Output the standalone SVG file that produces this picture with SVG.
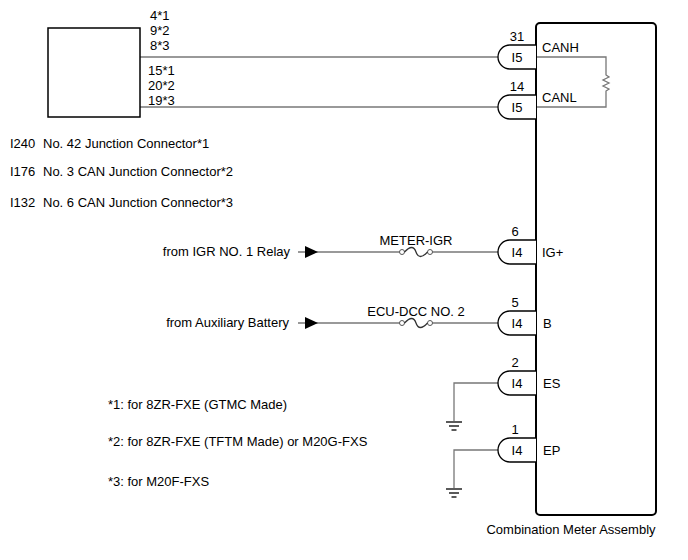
<svg xmlns="http://www.w3.org/2000/svg" width="688" height="560" viewBox="0 0 688 560">
<style>
text{font-family:"Liberation Sans",Arial,sans-serif;font-size:13px;fill:#000}
.w{stroke:#777;stroke-width:1.3;fill:none}
.pill{fill:#fff;stroke:#000;stroke-width:1.3}
.c{text-anchor:middle}
.g{stroke:#000;stroke-width:1.3}
</style>
<defs>
<path id="pl" d="M536,-12 H510 A12,12 0 0 0 510,12 H536"/>
<g id="gnd"><line class="g" x1="-8" y1="0" x2="8" y2="0"/><line class="g" x1="-5" y1="4" x2="5" y2="4"/><line class="g" x1="-2.5" y1="8" x2="2.5" y2="8"/></g>
<g id="fuse"><circle cx="-14" cy="0" r="2.5" fill="#fff" stroke="#555"/><circle cx="14" cy="0" r="2.5" fill="#fff" stroke="#555"/><path d="M-11.5,0 C-6,-6 -2,-6 0,0 S6,6 11.5,0" fill="none" stroke="#333" stroke-width="1.3"/></g>
</defs>
<g id="connectors">
<line class="w" x1="140" y1="57" x2="498" y2="57"/>
<line class="w" x1="140" y1="107" x2="498" y2="107"/>
<path class="w" d="M536,57 H606 V75 l3,2 l-6,3 l6,3 l-6,3 l6,3 l-3,2 V107 H536"/>
<line class="w" x1="298" y1="252" x2="402" y2="252"/>
<line class="w" x1="430" y1="252" x2="498" y2="252"/>
<line class="w" x1="298" y1="323" x2="402" y2="323"/>
<line class="w" x1="430" y1="323" x2="498" y2="323"/>
<polygon points="305,246 318,252 305,258" fill="#000"/>
<polygon points="305,317 318,323 305,329" fill="#000"/>
<path class="w" d="M498,383 H454 V421"/>
<path class="w" d="M498,450 H454 V488"/>
</g>
<g id="fuses"><use href="#fuse" x="416" y="252"/><use href="#fuse" x="416" y="323"/></g>
<use href="#gnd" x="454" y="422"/>
<use href="#gnd" x="454" y="489"/>
<g id="junction">
<rect x="48" y="28" width="92" height="89" fill="#fff" stroke="#000" stroke-width="1.5"/>
<text x="150" y="20">4*1</text><text x="150" y="35">9*2</text><text x="150" y="50">8*3</text>
<text x="148" y="75">15*1</text><text x="148" y="90">20*2</text><text x="148" y="105">19*3</text>
<text x="10" y="148">I240</text><text x="43" y="148">No. 42 Junction Connector*1</text>
<text x="10" y="176">I176</text><text x="43" y="176">No. 3 CAN Junction Connector*2</text>
<text x="10" y="207">I132</text><text x="43" y="207">No. 6 CAN Junction Connector*3</text>
</g>
<g id="meter">
<rect x="536" y="23" width="120" height="492" rx="4" fill="none" stroke="#000" stroke-width="2"/>
<text x="571" y="534" class="c">Combination Meter Assembly</text>
<text x="542" y="52">CANH</text><text x="542" y="102">CANL</text>
<text x="542" y="257">IG+</text><text x="543" y="328">B</text>
<text x="543" y="388">ES</text><text x="543" y="455">EP</text>
</g>
<g id="pins">
<use href="#pl" y="57" class="pill"/><use href="#pl" y="107" class="pill"/>
<use href="#pl" y="252" class="pill"/><use href="#pl" y="323" class="pill"/>
<use href="#pl" y="383" class="pill"/><use href="#pl" y="450" class="pill"/>
<g class="c">
<text x="517" y="62">I5</text><text x="517" y="112">I5</text><text x="517" y="257">I4</text><text x="517" y="328">I4</text><text x="517" y="388">I4</text><text x="517" y="455">I4</text>
<text x="517" y="41">31</text><text x="517" y="91">14</text><text x="515" y="236">6</text><text x="515" y="307">5</text><text x="515" y="367">2</text><text x="515" y="434">1</text>
<text x="416" y="245">METER-IGR</text><text x="416" y="316">ECU-DCC NO. 2</text>
</g>
</g>
<g id="labels">
<text x="290" y="256" text-anchor="end">from IGR NO. 1 Relay</text>
<text x="289" y="327" text-anchor="end">from Auxiliary Battery</text>
<text x="108" y="409">*1: for 8ZR-FXE (GTMC Made)</text>
<text x="108" y="446">*2: for 8ZR-FXE (TFTM Made) or M20G-FXS</text>
<text x="108" y="486">*3: for M20F-FXS</text>
</g>
</svg>
